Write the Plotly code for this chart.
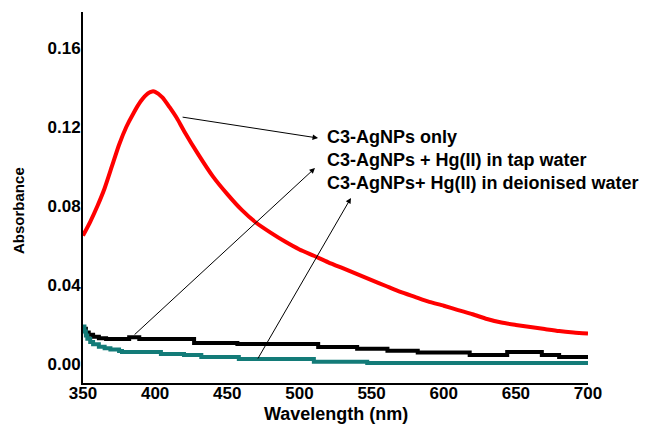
import plotly.graph_objects as go

# UV-Vis absorbance spectra (wavelength in nm)
wl_only = [350, 355, 360, 365, 370, 375, 380, 385, 390, 395, 398, 400, 405, 410,
           415, 420, 430, 440, 450, 460, 470, 480, 490, 500, 510, 520, 530, 540,
           550, 560, 570, 580, 590, 600, 610, 620, 630, 640, 650, 660, 670, 680,
           690, 700]
abs_only = [0.065, 0.072, 0.080, 0.089, 0.100, 0.111, 0.120, 0.127, 0.133, 0.137,
            0.138, 0.1378, 0.135, 0.130, 0.1245, 0.118, 0.106, 0.095, 0.086,
            0.078, 0.0715, 0.0665, 0.062, 0.058, 0.0548, 0.0515, 0.0485, 0.0455,
            0.0425, 0.0395, 0.0365, 0.034, 0.0315, 0.0295, 0.0273, 0.0252,
            0.0228, 0.021, 0.0198, 0.0187, 0.0177, 0.0167, 0.016, 0.0155]

wl_tap = [350, 352, 354, 357, 361, 366, 382, 389, 427, 457, 513, 540, 561, 582,
          618, 644, 668, 680, 700]
abs_tap = [0.0178, 0.0160, 0.0148, 0.0138, 0.0130, 0.0127, 0.0135, 0.0127,
           0.0106, 0.0101, 0.0086, 0.0078, 0.0067, 0.0058, 0.0046, 0.0061,
           0.0046, 0.0035, 0.0035]

wl_di = [350, 351, 352, 353, 355, 357, 361, 365, 369, 375, 377, 404, 420, 432,
         458, 510, 547, 700]
abs_di = [0.0190, 0.0165, 0.0145, 0.0128, 0.0112, 0.0100, 0.0088, 0.0080,
          0.0074, 0.0066, 0.0061, 0.0051, 0.0046, 0.0036, 0.0026, 0.0011,
          0.0005, 0.0005]

labels = ["C3-AgNPs only",
          "C3-AgNPs + Hg(II) in tap water",
          "C3-AgNPs+ Hg(II) in deionised water"]

x_ticks = [350, 400, 450, 500, 550, 600, 650, 700]
y_ticks = [0.00, 0.04, 0.08, 0.12, 0.16]
y_tick_text = ["0.00", "0.04", "0.08", "0.12", "0.16"]

FONT = "Liberation Sans"

fig = go.Figure()
fig.add_trace(go.Scatter(x=wl_only, y=abs_only, mode="lines", name=labels[0],
                         line=dict(color="#ff0000", width=4, shape="spline", smoothing=0.6)))
fig.add_trace(go.Scatter(x=wl_tap, y=abs_tap, mode="lines", name=labels[1],
                         line=dict(color="#000000", width=4, shape="hv")))
fig.add_trace(go.Scatter(x=wl_di, y=abs_di, mode="lines", name=labels[2],
                         line=dict(color="#137b78", width=4, shape="hv")))

# Pointer arrows: (tail on curve) -> (head near label)
arrows = [((418, 0.1251), (512.9, 0.1144)),
          ((384.7, 0.0142), (510.8, 0.0992)),
          ((470.6, 0.0020), (535.7, 0.0841))]
for (tx, ty), (hx, hy) in arrows:
    fig.add_annotation(x=hx, y=hy, ax=tx, ay=ty, xref="x", yref="y",
                       axref="x", ayref="y", text="", showarrow=True,
                       arrowhead=2, arrowsize=1.1, arrowwidth=1, arrowcolor="#000")

label_y = [0.1149, 0.1033, 0.0916]
for txt, ly in zip(labels, label_y):
    fig.add_annotation(x=517.7, y=ly, xref="x", yref="y", text=txt,
                       showarrow=False, xanchor="left", yanchor="middle",
                       font=dict(family=FONT, size=18, color="#000", weight="bold"))

# Axis titles
fig.add_annotation(x=0.5, y=-0.083, xref="paper", yref="paper",
                   text="Wavelength (nm)", showarrow=False,
                   xanchor="center", yanchor="middle",
                   font=dict(family=FONT, size=18, color="#000", weight="bold"))
fig.add_annotation(x=-0.129, y=0.466, xref="paper", yref="paper",
                   text="Absorbance", showarrow=False, textangle=-90,
                   xanchor="center", yanchor="middle",
                   font=dict(family=FONT, size=15, color="#000", weight="bold"))

fig.update_layout(
    width=646, height=429,
    margin=dict(l=83, r=58, t=12, b=46),
    paper_bgcolor="white", plot_bgcolor="white",
    showlegend=False,
    font=dict(family=FONT, color="#000"),
)
fig.update_xaxes(
    range=[350, 700], tickvals=x_ticks, ticks="", showgrid=False, zeroline=False,
    showline=True, linecolor="#000", linewidth=2, automargin=False,
    ticklabelstandoff=-6,
    tickfont=dict(family=FONT, size=17, weight="bold"),
)
fig.update_yaxes(
    range=[-0.0096, 0.1782], tickvals=y_ticks, ticktext=y_tick_text, ticks="",
    showgrid=False, zeroline=False, showline=True, linecolor="#000", linewidth=2,
    automargin=False, ticklabelstandoff=-3,
    tickfont=dict(family=FONT, size=17, weight="bold"),
)

fig.write_html("out.html")
